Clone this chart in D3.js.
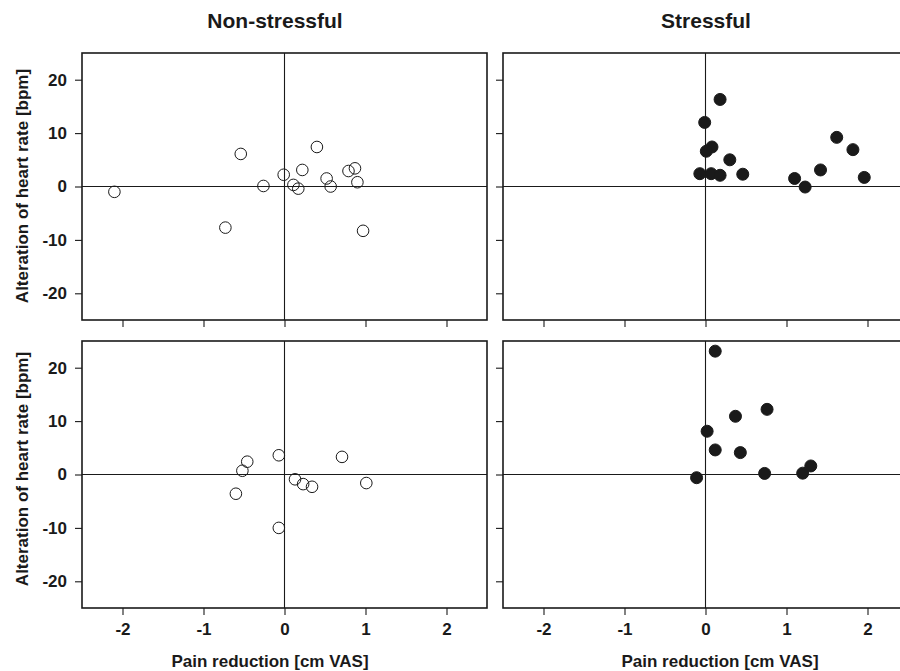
<!DOCTYPE html>
<html>
<head>
<meta charset="utf-8">
<script src="https://cdn.jsdelivr.net/npm/d3@7"></script>
<style>
  body { margin: 0; background: #fff; }
  svg { display: block; font-family: "Liberation Sans", Arial, Helvetica, sans-serif; font-weight: bold; }
</style>
</head>
<body>
<svg id="chart" width="900" height="671"></svg>
<script>
// column titles
const columns = ['Non-stressful', 'Stressful'];
const xTicks = [-2, -1, 0, 1, 2];
const yTicks = [-20, -10, 0, 10, 20];

// row 1, non-stressful: pain reduction (cm VAS) / heart rate change (bpm)
const top1Pain = [-2.10, -0.54, -0.73, -0.26, -0.01, 0.11, 0.17, 0.22, 0.40, 0.52, 0.57, 0.79, 0.87, 0.90, 0.97];
const top1Hr   = [-1.0, 6.1, -7.7, 0.1, 2.2, 0.3, -0.4, 3.1, 7.4, 1.5, 0.0, 2.9, 3.4, 0.8, -8.3];

// row 1, stressful
const top2Pain = [0.18, -0.01, 0.08, 0.01, 0.30, -0.07, 0.07, 0.18, 0.46, 1.10, 1.23, 1.42, 1.62, 1.82, 1.96];
const top2Hr   = [16.3, 12.0, 7.4, 6.6, 5.0, 2.4, 2.4, 2.1, 2.3, 1.5, -0.1, 3.1, 9.2, 6.9, 1.7];

// row 2, non-stressful
const bot1Pain = [-0.46, -0.52, -0.60, -0.07, -0.07, 0.13, 0.23, 0.34, 0.71, 1.01];
const bot1Hr   = [2.4, 0.7, -3.6, 3.6, -10.0, -0.9, -1.8, -2.3, 3.3, -1.6];

// row 2, stressful
const bot2Pain = [0.12, 0.76, 0.37, 0.02, 0.12, 0.43, -0.11, 0.73, 1.20, 1.30];
const bot2Hr   = [23.1, 12.2, 10.9, 8.1, 4.6, 4.1, -0.6, 0.2, 0.25, 1.6];

const svg = d3.select('#chart');
const ink = '#1a1a1a';

const colX = [82, 503];
const rowY = [53, 341];
const pw = 405, ph = 267;

const panels = [
  { row: 0, col: 0, xs: top1Pain, ys: top1Hr, filled: false },
  { row: 0, col: 1, xs: top2Pain, ys: top2Hr, filled: true },
  { row: 1, col: 0, xs: bot1Pain, ys: bot1Hr, filled: false },
  { row: 1, col: 1, xs: bot2Pain, ys: bot2Hr, filled: true }
];

const plainNum = d => String(d); // keep ascii hyphen like the original

panels.forEach(p => {
  const g = svg.append('g')
    .attr('transform', `translate(${colX[p.col]},${rowY[p.row]})`);

  const x = d3.scaleLinear().domain([-2.5, 2.5]).range([0, pw]);
  const y = d3.scaleLinear().domain([-25, 25]).range([ph, 0]);

  // zero reference lines
  g.append('line')
    .attr('x1', 0).attr('x2', pw)
    .attr('y1', y(0)).attr('y2', y(0))
    .attr('stroke', ink).attr('stroke-width', 1.1);
  g.append('line')
    .attr('x1', x(0)).attr('x2', x(0))
    .attr('y1', 0).attr('y2', ph)
    .attr('stroke', ink).attr('stroke-width', 1.1);

  // axes
  const xAxis = d3.axisBottom(x).tickValues(xTicks).tickSize(7).tickPadding(8)
    .tickFormat(p.row === 1 ? plainNum : '');
  const yAxis = d3.axisLeft(y).tickValues(yTicks).tickSize(7).tickPadding(8)
    .tickFormat(p.col === 0 ? plainNum : '');

  const gx = g.append('g').attr('transform', `translate(0,${ph})`).call(xAxis);
  const gy = g.append('g').call(yAxis);
  [gx, gy].forEach(a => {
    a.select('.domain').remove();
    a.selectAll('line').attr('stroke', ink).attr('stroke-width', 1.1);
    a.selectAll('text')
      .attr('fill', ink)
      .style('font-size', '17px')
      .style('font-weight', 'bold')
      .style('font-family', '"Liberation Sans", Arial, sans-serif');
  });

  // frame
  g.append('rect')
    .attr('width', pw).attr('height', ph)
    .attr('fill', 'none')
    .attr('stroke', ink).attr('stroke-width', 1.6);

  // points
  g.selectAll('circle.pt')
    .data(d3.range(p.xs.length))
    .enter().append('circle')
    .attr('class', 'pt')
    .attr('cx', i => x(p.xs[i]))
    .attr('cy', i => y(p.ys[i]))
    .attr('r', p.filled ? 6 : 5.8)
    .attr('fill', p.filled ? ink : 'none')
    .attr('stroke', ink)
    .attr('stroke-width', 1);
});

// column titles
svg.selectAll('text.title')
  .data(columns)
  .enter().append('text')
  .attr('class', 'title')
  .attr('x', (d, i) => [275, 706][i])
  .attr('y', 28)
  .attr('text-anchor', 'middle')
  .attr('fill', ink)
  .style('font-size', '21px')
  .text(d => d);

// x axis titles
[270, 720].forEach(cx => {
  svg.append('text')
    .attr('x', cx).attr('y', 667)
    .attr('text-anchor', 'middle')
    .attr('fill', ink)
    .style('font-size', '17px')
    .text('Pain reduction [cm VAS]');
});

// y axis titles
[186, 469].forEach(cy => {
  svg.append('text')
    .attr('transform', `translate(28,${cy}) rotate(-90)`)
    .attr('text-anchor', 'middle')
    .attr('fill', ink)
    .style('font-size', '17px')
    .text('Alteration of heart rate [bpm]');
});
</script>
</body>
</html>
